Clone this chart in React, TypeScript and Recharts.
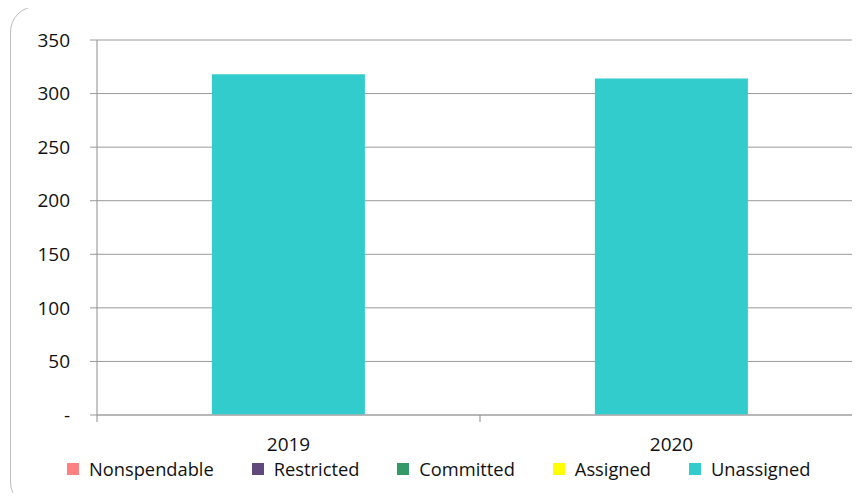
import { BarChart, Bar, XAxis, YAxis, CartesianGrid, Legend } from 'recharts'

const years = ['2019', '2020']
const nonspendable = [0, 0]
const restricted = [0, 0]
const committed = [0, 0]
const assigned = [0, 0]
const unassigned = [318, 314]
const yTicks = [0, 50, 100, 150, 200, 250, 300, 350]

const seriesNames = ['Nonspendable', 'Restricted', 'Committed', 'Assigned', 'Unassigned']
const seriesColors = ['#FF8080', '#604A7B', '#339966', '#FFFF00', '#33CCCC']

const CHART_W = 880
const CHART_H = 501
const MARGIN = { top: 40, right: 17, left: 0, bottom: 0 }
const Y_AXIS_W = 97
const PLOT_W = CHART_W - MARGIN.left - MARGIN.right - Y_AXIS_W
const FONT = '"Open Sans", sans-serif'

const data = years.map((year, i) => ({
  year,
  Nonspendable: nonspendable[i],
  Restricted: restricted[i],
  Committed: committed[i],
  Assigned: assigned[i],
  Unassigned: unassigned[i],
}))

// category label in the middle, small tick marks on the band edges
// eslint-disable-next-line @typescript-eslint/no-explicit-any
function YearTick({ x, y, payload, index }: any) {
  const half = PLOT_W / years.length / 2
  return (
    <g>
      <line x1={x - half} y1={y - 8} x2={x - half} y2={y - 1} stroke="#8c8c8c" />
      {index === years.length - 1 && (
        <line x1={x + half} y1={y - 8} x2={x + half} y2={y - 1} stroke="#8c8c8c" />
      )}
      <text x={x} y={y + 28} textAnchor="middle" fontSize={19} fontFamily={FONT} fill="#111">
        {payload.value}
      </text>
    </g>
  )
}

function LegendContent() {
  return (
    <div style={{ display: 'flex', alignItems: 'center', fontFamily: FONT, fontSize: 18.3, color: '#111' }}>
      {seriesNames.map((name, i) => (
        <div key={name} style={{ display: 'flex', alignItems: 'center', marginRight: 38 }}>
          <span style={{ width: 12, height: 12, background: seriesColors[i], marginRight: 10, display: 'inline-block' }} />
          <span>{name}</span>
        </div>
      ))}
    </div>
  )
}

export default function App() {
  return (
    <div style={{ margin: -8, width: 860, height: 501, overflow: 'hidden', position: 'relative', background: '#fff' }}>
      <div
        style={{
          position: 'absolute',
          left: 10,
          top: 6,
          width: 900,
          height: 500,
          border: '1.5px solid #bdbdbd',
          borderRadius: 26,
        }}
      />
      <div style={{ position: 'absolute', left: 0, top: 0 }}>
        <BarChart width={CHART_W} height={CHART_H} data={data} margin={MARGIN} barCategoryGap="30%">
          <CartesianGrid vertical={false} stroke="#9a9a9a" />
          <XAxis
            dataKey="year"
            height={86}
            axisLine={{ stroke: '#b0b0b0', strokeWidth: 1.5 }}
            tickLine={false}
            tick={<YearTick />}
            interval={0}
          />
          <YAxis
            width={Y_AXIS_W}
            domain={[0, 350]}
            ticks={yTicks}
            interval={0}
            axisLine={{ stroke: '#8c8c8c' }}
            tickLine={{ stroke: '#9a9a9a' }}
            tickSize={7}
            tickMargin={20}
            tickFormatter={(v: number) => (v === 0 ? '-' : String(v))}
            tick={{ fontSize: 19, fontFamily: FONT, fill: '#111' }}
          />
          <Legend
            layout="horizontal"
            verticalAlign="middle"
            align="center"
            content={<LegendContent />}
            wrapperStyle={{ top: 456, left: 67, width: 'auto', height: 'auto' }}
          />
          {seriesNames.map((name, i) => (
            <Bar key={name} dataKey={name} stackId="a" fill={seriesColors[i]} isAnimationActive={false} />
          ))}
        </BarChart>
      </div>
    </div>
  )
}
